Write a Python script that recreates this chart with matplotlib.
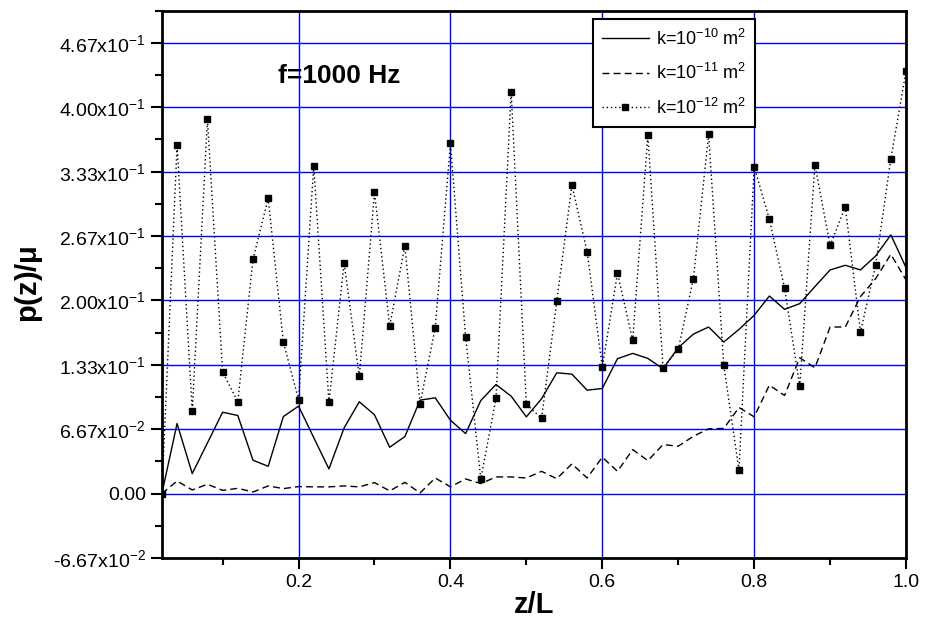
import matplotlib
matplotlib.use('Agg')
import matplotlib.pyplot as plt
from matplotlib.ticker import MultipleLocator, FuncFormatter

plt.rcParams['font.family'] = ['Liberation Sans', 'DejaVu Sans']
plt.rcParams['mathtext.fontset'] = 'custom'
plt.rcParams['mathtext.rm'] = 'Liberation Sans'
plt.rcParams['mathtext.it'] = 'Liberation Sans:italic'
plt.rcParams['mathtext.bf'] = 'Liberation Sans:bold'

z = [0.02 * (i + 1) for i in range(50)]

k10 = [0.0, 0.0726, 0.0207, 0.0525, 0.0843, 0.0809, 0.0346, 0.0283, 0.0798, 0.0906,
       0.058, 0.0256, 0.0681, 0.0951, 0.0816, 0.048, 0.0591, 0.0968, 0.0992, 0.076,
       0.0622, 0.0964, 0.113, 0.1009, 0.0795, 0.0982, 0.1251, 0.1237, 0.1071, 0.1089,
       0.1397, 0.1452, 0.14, 0.1293, 0.1511, 0.1652, 0.1725, 0.157, 0.17, 0.1846,
       0.2046, 0.1908, 0.1967, 0.2143, 0.2316, 0.2364, 0.2316, 0.2461, 0.2679, 0.234]

k11 = [0.0, 0.0131, 0.0038, 0.0097, 0.0034, 0.0055, 0.0017, 0.008, 0.0052, 0.0073,
       0.007, 0.007, 0.008, 0.007, 0.0114, 0.0028, 0.0117, 0.0007, 0.0162, 0.007,
       0.0152, 0.0104, 0.0173, 0.0173, 0.0162, 0.0231, 0.0155, 0.0308, 0.0162, 0.0377,
       0.0231, 0.0456, 0.0342, 0.0508, 0.0491, 0.0594, 0.0671, 0.0675, 0.0892, 0.0795,
       0.1123, 0.1016, 0.1407, 0.1303, 0.1725, 0.1725, 0.204, 0.2226, 0.2478, 0.2212]

k12 = [0.0, 0.361, 0.0854, 0.3875, 0.1258, 0.0951, 0.2427, 0.3056, 0.1569, 0.0971,
       0.3391, 0.0944, 0.2388, 0.1213, 0.3118, 0.1735, 0.2565, 0.093, 0.1718, 0.3626,
       0.1621, 0.0152, 0.0985, 0.4162, 0.0926, 0.0778, 0.1991, 0.3194, 0.2506, 0.131,
       0.2285, 0.1587, 0.3709, 0.1303, 0.1493, 0.2226, 0.372, 0.1327, 0.0242, 0.3384,
       0.2841, 0.2129, 0.1113, 0.3405, 0.2569, 0.2969, 0.1673, 0.2368, 0.3467, 0.4376]

y_labels = {-1: '-6.67x10$^{-2}$', 0: '0.00', 1: '6.67x10$^{-2}$', 2: '1.33x10$^{-1}$',
            3: '2.00x10$^{-1}$', 4: '2.67x10$^{-1}$', 5: '3.33x10$^{-1}$',
            6: '4.00x10$^{-1}$', 7: '4.67x10$^{-1}$'}

fig = plt.figure(figsize=(9.25, 6.21), dpi=100)
ax = fig.add_axes([0.175, 0.1014, 0.8045, 0.8814])

ax.plot(z, k10, color='black', lw=1.0, label='k=10$^{-10}$ m$^2$')
ax.plot(z, k11, color='black', lw=1.0, ls=(0, (5, 3)), label='k=10$^{-11}$ m$^2$')
ax.plot(z, k12, color='black', lw=1.0, ls=(0, (1, 2)), marker='s', ms=4,
        label='k=10$^{-12}$ m$^2$')

ax.set_xlim(0.02, 1.0)
ax.set_ylim(-1 / 15, 0.5)

ax.xaxis.set_major_locator(MultipleLocator(0.2))
ax.xaxis.set_minor_locator(MultipleLocator(0.1))
ax.xaxis.set_major_formatter(FuncFormatter(lambda v, p: '%.1f' % v))
ax.yaxis.set_major_locator(MultipleLocator(1 / 15))
ax.yaxis.set_minor_locator(MultipleLocator(1 / 30))
ax.yaxis.set_major_formatter(FuncFormatter(lambda v, p: y_labels.get(int(round(v * 15)), '')))

ax.grid(True, which='major', color='#0000ff', lw=1.0)
ax.set_axisbelow(True)

ax.tick_params(which='major', direction='out', length=8, width=1.5, labelsize=14,
               top=False, right=False)
ax.tick_params(which='minor', direction='out', length=5, width=1.5, top=False, right=False)
for s in ax.spines.values():
    s.set_linewidth(2)

ax.set_xlabel('z/L', fontsize=21, fontweight='bold', labelpad=0)
ax.set_ylabel('p(z)/$\\mathbf{\\mu}$', fontsize=21, fontweight='bold', labelpad=6)

ax.text(0.156, 0.868, 'f=1000 Hz', transform=ax.transAxes, fontsize=19, fontweight='bold')

leg = ax.legend(loc='upper left', bbox_to_anchor=(0.579, 0.984), fontsize=13,
                fancybox=False, framealpha=1, edgecolor='black', numpoints=1,
                handlelength=2.6, handletextpad=0.4, borderpad=0.5,
                labelspacing=0.8, borderaxespad=0)
leg.get_frame().set_linewidth(1.5)

fig.savefig('out.png', dpi=100)
